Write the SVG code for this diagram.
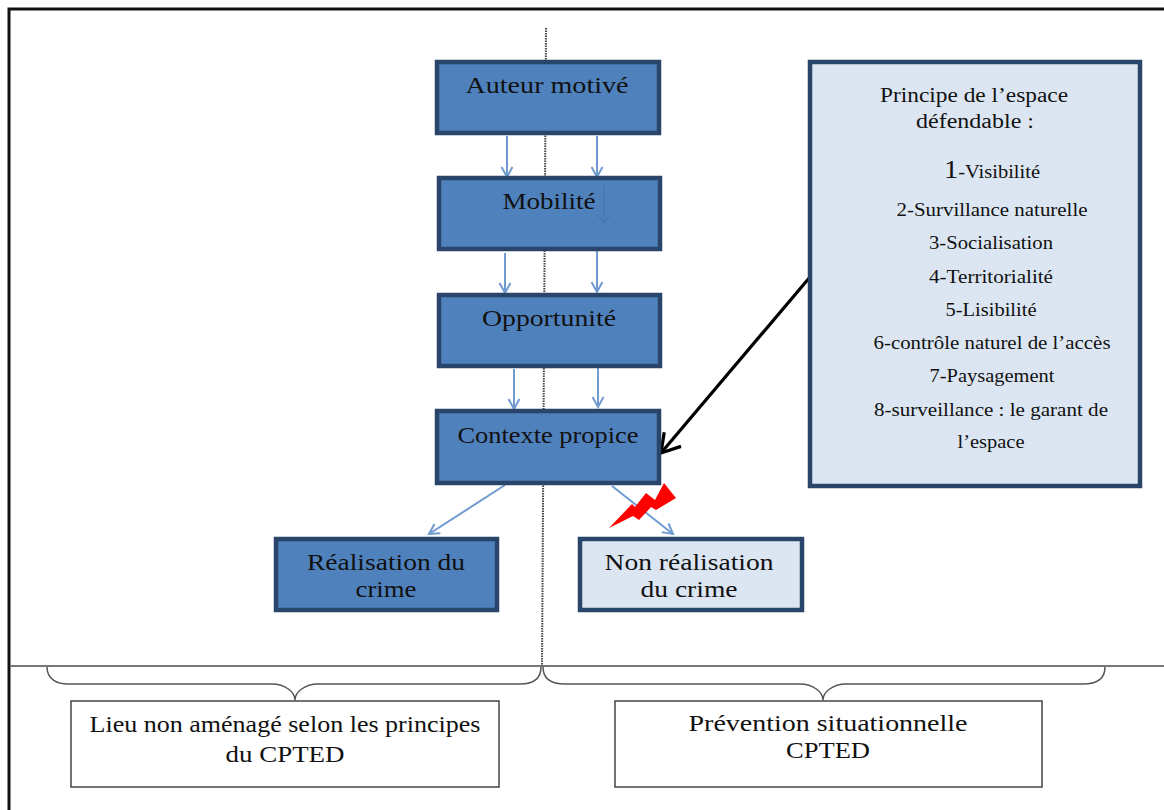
<svg xmlns="http://www.w3.org/2000/svg" width="1164" height="810" viewBox="0 0 1164 810">
<style>
text{font-family:"Liberation Serif","Times New Roman",serif;fill:#111;text-anchor:middle}
.big{font-size:24px}
.mid{font-size:20.5px}
.sm{font-size:18px}
.dark{fill:#4f81bd;stroke:#29466a;stroke-width:4.5}
.light{fill:#dce6f2;stroke:#29466a;stroke-width:4.5}
.plain{fill:#fff;stroke:#444;stroke-width:1.5}
.arr{fill:none;stroke:#6f9bd1;stroke-width:2;marker-end:url(#a)}
.brace{fill:none;stroke:#555;stroke-width:1.5}
</style>
<defs>
<marker id="a" markerUnits="userSpaceOnUse" markerWidth="14" markerHeight="14" refX="11" refY="7" orient="auto"><path d="M1 1.5 L11 7 L1 12.5" fill="none" stroke="#6f9bd1" stroke-width="2"/></marker>
<marker id="b" markerUnits="userSpaceOnUse" markerWidth="26" markerHeight="28" refX="21" refY="14" orient="auto"><path d="M3 3 L21 14 L3 25" fill="none" stroke="#000" stroke-width="3.2"/></marker>
</defs>
<rect width="1164" height="810" fill="#fff"/>
<g id="frame">
<path d="M1164 9 H9 V810" fill="none" stroke="#111" stroke-width="3"/>
<path d="M10 666 H1164" fill="none" stroke="#777" stroke-width="2"/>
</g>
<g id="connectors">
<path d="M546 28 L542 666" fill="none" stroke="#444" stroke-width="2" stroke-dasharray="1.5 1"/>
<path class="arr" d="M507 136 V177"/>
<path class="arr" d="M597 136 V177"/>
<path class="arr" d="M505 253 V293"/>
<path class="arr" d="M597 251 V292"/>
<path class="arr" d="M514 369 V409"/>
<path class="arr" d="M598 367 V407"/>
<path class="arr" d="M505 485 L429 534"/>
<path class="arr" d="M612 486 L673 534"/>
<path d="M810 277 L661 453" fill="none" stroke="#000" stroke-width="3.2" marker-end="url(#b)"/>
<path class="brace" d="M47 667 C47 680 58 684 68 684 H272 C285 684 295 692 295 700 C295 692 305 684 318 684 H520 C532 684 541 680 541 667"/>
<path class="brace" d="M543 667 C543 680 553 684 565 684 H800 C813 684 823 692 823 700 C823 692 833 684 846 684 H1083 C1095 684 1105 680 1105 667"/>
</g>
<g id="auteur"><rect class="dark" x="437" y="62" width="222" height="71"/><text class="big" x="547" y="93" textLength="163" lengthAdjust="spacingAndGlyphs">Auteur motivé</text></g>
<g id="mobilite"><rect class="dark" x="439" y="178" width="221" height="71"/><path d="M604 185 V222 M597 214 L604 223 L611 214" fill="none" stroke="#4577b3" stroke-width="1.2"/><text class="big" x="549" y="209" textLength="93" lengthAdjust="spacingAndGlyphs">Mobilité</text></g>
<g id="opportunite"><rect class="dark" x="439" y="295" width="221" height="71"/><text class="big" x="549" y="326" textLength="134" lengthAdjust="spacingAndGlyphs">Opportunité</text></g>
<g id="contexte"><rect class="dark" x="437" y="411" width="222" height="72"/><text class="big" x="548" y="443" textLength="181" lengthAdjust="spacingAndGlyphs">Contexte propice</text></g>
<g id="realisation"><rect class="dark" x="276" y="539" width="221" height="71"/><text class="big" x="386" y="570" textLength="158" lengthAdjust="spacingAndGlyphs">Réalisation du</text><text class="big" x="386" y="597" textLength="61" lengthAdjust="spacingAndGlyphs">crime</text></g>
<g id="non-realisation"><rect class="light" x="580" y="539" width="222" height="71"/><text class="big" x="689" y="570" textLength="169" lengthAdjust="spacingAndGlyphs">Non réalisation</text><text class="big" x="689" y="597" textLength="97" lengthAdjust="spacingAndGlyphs">du crime</text></g>
<g id="principe"><rect class="light" x="810" y="62" width="330" height="424"/>
<text class="mid" x="974" y="102" textLength="188" lengthAdjust="spacingAndGlyphs">Principe de l’espace</text>
<text class="mid" x="975" y="128" textLength="118" lengthAdjust="spacingAndGlyphs">défendable :</text>
<text class="sm" x="992" y="178" textLength="96" lengthAdjust="spacingAndGlyphs"><tspan font-size="25">1</tspan>-Visibilité</text>
<text class="sm" x="992" y="216" textLength="191" lengthAdjust="spacingAndGlyphs">2-Survillance naturelle</text>
<text class="sm" x="991" y="249" textLength="124" lengthAdjust="spacingAndGlyphs">3-Socialisation</text>
<text class="sm" x="991" y="283" textLength="124" lengthAdjust="spacingAndGlyphs">4-Territorialité</text>
<text class="sm" x="991" y="316" textLength="91" lengthAdjust="spacingAndGlyphs">5-Lisibilité</text>
<text class="sm" x="992" y="349" textLength="237" lengthAdjust="spacingAndGlyphs">6-contrôle naturel de l’accès</text>
<text class="sm" x="992" y="382" textLength="125" lengthAdjust="spacingAndGlyphs">7-Paysagement</text>
<text class="sm" x="991" y="416" textLength="234" lengthAdjust="spacingAndGlyphs">8-surveillance : le garant de</text>
<text class="sm" x="991" y="448" textLength="67" lengthAdjust="spacingAndGlyphs">l’espace</text></g>
<g id="bolt"><polygon points="609,528 632,504 635,507 646,493 655,500 664,483 676,498 656,510 651,507 639,520 633,516" fill="#f00"/></g>
<g id="lieu"><rect class="plain" x="71" y="701" width="428" height="86"/><text class="big" x="285" y="732" textLength="391" lengthAdjust="spacingAndGlyphs">Lieu non aménagé selon les principes</text><text class="big" x="285" y="762" textLength="119" lengthAdjust="spacingAndGlyphs">du CPTED</text></g>
<g id="prevention"><rect class="plain" x="615" y="701" width="427" height="86"/><text class="big" x="828" y="731" textLength="279" lengthAdjust="spacingAndGlyphs">Prévention situationnelle</text><text class="big" x="828" y="758" textLength="84" lengthAdjust="spacingAndGlyphs">CPTED</text></g>
</svg>
